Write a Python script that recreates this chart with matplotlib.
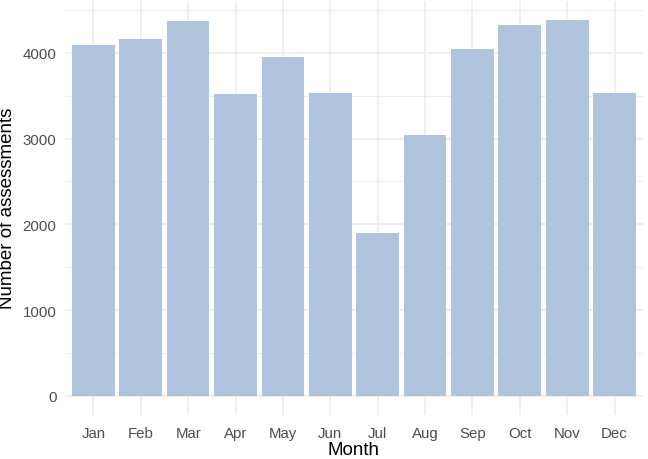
import matplotlib
matplotlib.use("Agg")
import matplotlib.pyplot as plt
from matplotlib.ticker import MultipleLocator

months = ["Jan", "Feb", "Mar", "Apr", "May", "Jun", "Jul", "Aug", "Sep", "Oct", "Nov", "Dec"]
counts = [4095, 4162, 4372, 3520, 3949, 3529, 1895, 3040, 4045, 4329, 4387, 3536]

plt.rcParams['font.family'] = ['Liberation Sans', 'DejaVu Sans']

fig = plt.figure(figsize=(6.48, 4.6), dpi=100)
ax = fig.add_axes([0.1002, 0.0967, 0.8921, 0.899])

x = list(range(1, len(months) + 1))
ax.bar(x, counts, width=0.9, color="#B0C4DE", zorder=3)

ymax = max(counts)
ax.set_xlim(0.4, len(months) + 0.6)
ax.set_ylim(-0.05 * ymax, ymax * 1.05)

ax.set_xticks(x)
ax.set_xticklabels(months)
ax.yaxis.set_major_locator(MultipleLocator(1000))
ax.yaxis.set_minor_locator(MultipleLocator(500))

ax.grid(which="major", axis="both", color="#EBEBEB", linewidth=1.1, zorder=0)
ax.grid(which="minor", axis="y", color="#EBEBEB", linewidth=0.6, zorder=0)
for s in ax.spines.values():
    s.set_visible(False)
ax.tick_params(axis="both", which="both", length=0, labelsize=10.8, labelcolor="#4D4D4D")
ax.tick_params(axis="x", pad=8)
ax.tick_params(axis="y", pad=6)

ax.set_xlabel("Month", fontsize=13.5, color="black", labelpad=1)
ax.set_ylabel("Number of assessments", fontsize=13.5, color="black", labelpad=5)

fig.savefig("out.png", dpi=100)
